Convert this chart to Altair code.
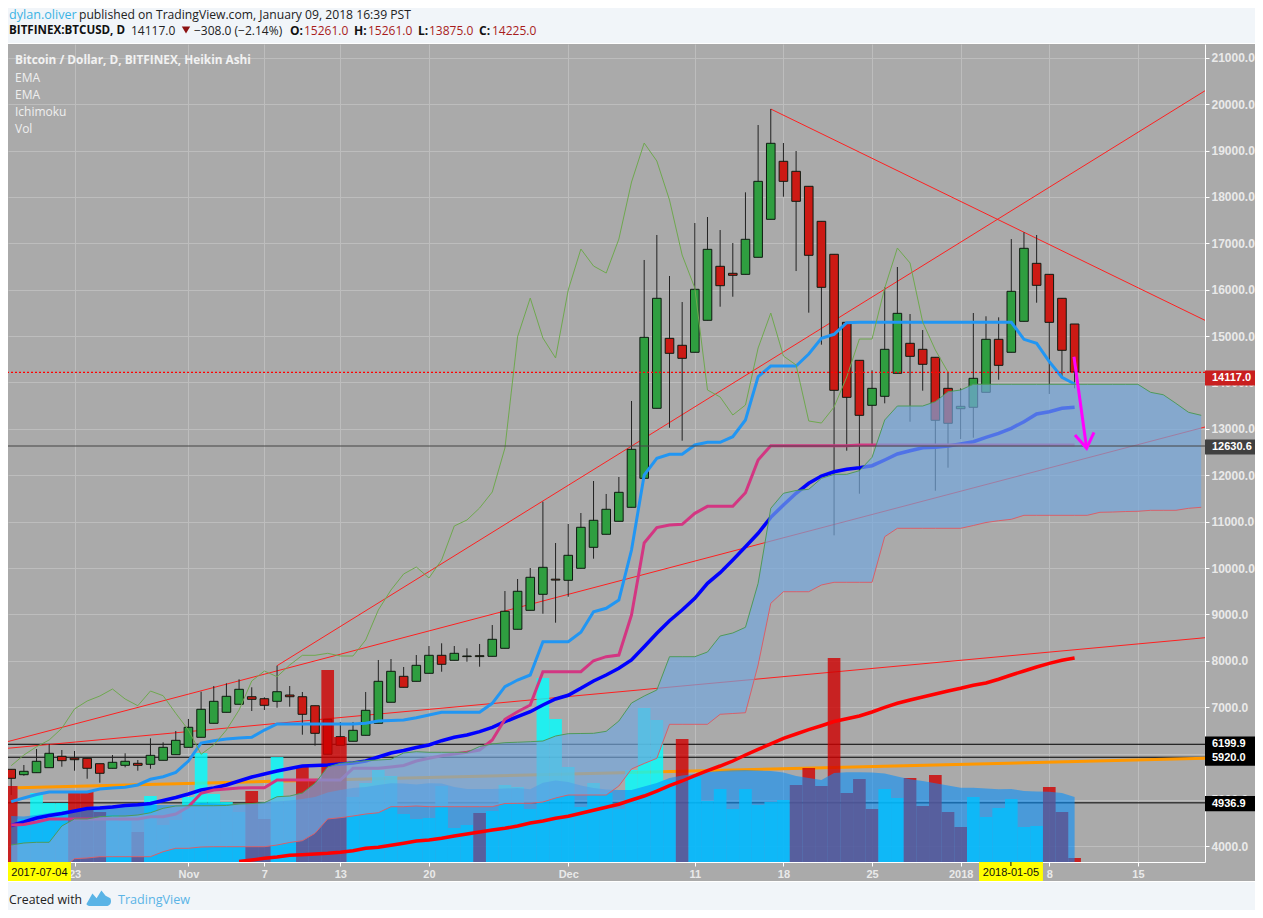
import altair as alt
import pandas as pd

FIRST_DAY = -5  # day numbers count from 2017-10-23
OPEN = [5660,5544,5587,5695,5940,5904,5897,5781,5682,5746,5789,5768,5854,5975,6134,6350,6652,6889,7062,7225,7182,7126,7262,7225,7031,6738,6363,6264,6393,6652,7105,7665,7557,7730,8118,8010,8103,8110,8096,8269,8679,9088,9433,9760,9735,9994,10446,10727,11007,11309,11934,13443,14952,14802,14651,15341,16505,16354,16332,16699,17518,18769,18553,18230,17475,16764,15297,14478,13508,13702,14198,14845,14715,14543,13874,13435,13465,13788,14931,14651,15319,16569,16332,15815,15261]
HIGH = [5660,5753,6098,6206,6076,6055,5897,5781,5968,6005,5861,6328,6242,6486,6745,7333,7456,7514,7600,7428,7212,7894,7456,7327,7031,6738,6680,6680,7327,8017,8038,7866,8124,8318,8377,8318,8269,8362,8771,9504,9763,10000,11430,10539,10949,11186,11876,11596,11962,13601,16641,17180,16296,15735,17438,17568,17287,17007,18100,19551,19896,19163,18991,18230,17475,16764,15297,14478,14263,16052,16490,15476,15131,14543,14219,13874,15498,15427,15405,17093,17238,17180,16332,15815,15261]
LOW = [5106,5522,5587,5695,5716,5630,5457,5371,5682,5703,5630,5673,5854,5975,6134,6350,6652,6889,7062,6917,6939,6988,7010,6406,6169,5984,6178,6264,6393,6652,7105,7428,7557,7730,7764,8010,7980,7872,8096,8269,8679,9088,9015,8821,9381,9994,10201,10727,11007,11309,11934,13443,13025,12745,14651,15341,15634,15849,16332,16699,17518,18005,16403,15505,14815,10705,12529,11602,12652,13551,14198,13154,13823,11667,12163,12781,12809,13788,14060,14651,15319,15720,13752,14125,13875]
CLOSE = [5466,5617,5833,6005,5846,5867,5682,5574,5811,5833,5746,5962,6134,6285,6566,6954,7126,7234,7385,7169,7040,7333,7225,6846,6436,5984,6178,6501,6932,7557,7773,7428,7902,8118,7924,8161,8090,8090,8463,9067,9498,9800,10015,9740,10274,10878,11029,11266,11632,12559,14974,15815,14629,14521,16009,16871,16087,16311,17087,18337,19157,18337,17906,16742,16052,13831,13680,13292,13874,14715,15491,14564,14392,13185,13120,13486,14090,14931,14370,15966,16893,16095,15297,14694,14225]

VOLUME = [76,43,69,59,59,70,70,50,47,41,30,66,37,42,65,109,68,60,50,71,43,105,65,95,83,192,125,65,79,92,86,48,43,44,76,34,37,49,51,77,75,53,184,143,95,55,79,69,53,92,154,142,82,123,85,61,73,53,73,57,60,62,77,94,76,204,69,83,53,73,64,84,56,87,50,35,65,45,54,63,35,36,75,50,4]
VOLUME_SIDE = ["r","c","c","c","c","r","r","r","c","c","r","c","c","c","c","c","c","c","c","r","r","c","c","r","r","r","r","c","c","c","c","c","c","c","c","c","c","r","c","c","c","c","c","c","c","c","c","c","c","c","c","c","c","r","c","c","c","c","c","c","c","c","r","r","r","r","r","r","r","c","c","r","r","r","r","r","c","c","c","c","c","c","r","r","r"]
VOLUME_MA = [46,45.5,47,49,50.5,52.5,55,56,56.5,56.5,56.7,57,57,57,57.5,59,58.5,58,58,58.5,60,60.5,61.5,63,65,69.5,72,74,75,77,78.7,78.5,77.5,78.8,78.5,75,73,73,73,73.5,74,72.7,79.3,81.5,80,76.5,74,72.5,72,72,75.5,79,84,86.5,88,90,91,91.7,92,91.5,91,89.5,86,84,82,89,89.7,89.7,89.5,88.5,85.5,82.7,81,78.7,76.5,74.3,74.2,73.5,72.8,73,71,70.5,70.2,69,65]

EMA_BLUE = [4448,4524,4610,4664,4707,4761,4815,4826,4847,4880,4895,4923,4987,5052,5128,5214,5257,5322,5408,5494,5559,5623,5677,5731,5742,5753,5774,5796,5839,5925,6012,6065,6130,6184,6277,6350,6400,6471,6566,6686,6794,6902,7046,7176,7256,7406,7564,7693,7838,8017,8303,8592,8864,9095,9347,9670,9899,10173,10459,10748,11093,11358,11611,11826,11984,12076,12128,12163,12206,12329,12458,12529,12594,12602,12630,12674,12723,12818,12904,13012,13154,13320,13370,13443,13465]
EMA_RED_FIRST = 13
EMA_RED = [3670,3705,3741,3769,3806,3819,3834,3849,3871,3905,3957,3978,4022,4065,4114,4136,4172,4222,4265,4308,4351,4388,4438,4502,4545,4604,4647,4711,4776,4841,4906,4998,5084,5192,5307,5408,5522,5630,5731,5839,5968,6091,6206,6328,6421,6514,6600,6691,6751,6809,6896,6997,7083,7154,7219,7284,7348,7406,7471,7521,7601,7693,7779,7866,7945,8010,8060]
CONVERSION = [4962,5041,5117,5171,5171,5171,5171,5235,5257,5272,5322,5445,5501,5595,5839,6227,6277,6313,6335,6350,6507,6637,6637,6637,6637,6637,6637,6637,6652,6701,6712,6723,6773,6831,6889,6889,6889,6889,7083,7441,7585,7693,8411,8411,8411,8614,9058,9131,9310,10388,12005,12365,12452,12452,12652,12710,12710,12831,13191,14125,14355,14355,14355,14614,14952,15039,15289,15297,15297,15297,15297,15297,15297,15297,15297,15297,15297,15297,15297,15297,14931,14845,14448,14112,13967]
BASE = [4459,4470,4524,4589,4589,4589,4589,4589,4589,4589,4589,4638,4638,4696,4854,5143,5214,5235,5257,5263,5263,5429,5429,5429,5429,5429,5429,5682,5682,5682,5710,5742,5839,5897,5953,5990,6027,6076,6292,6738,6902,7046,7764,7764,7764,7764,8001,8088,8124,8987,10539,10873,10927,10942,11179,11330,11330,11330,11624,12329,12637,12637,12637,12637,12637,12637,12637,12652,12652,12652,12652,12652,12652,12652,12652,12652,12652,12652,12652,12652,12652,12652,12652,12652,12652]
LAGGING = [5738,5968,6147,6292,6544,6960,7133,7240,7391,7176,7031,7348,7247,6867,6507,5984,6184,6507,6939,7564,7779,7657,7909,8118,8118,8161,8103,8103,8448,9095,9526,9871,10022,9785,10173,10906,11035,11294,11639,12587,14987,15821,14959,14528,15994,16878,16511,16360,17093,18322,19163,18775,17934,16748,16037,13838,13687,13299,13514,14743,15498,14571,14377,13170,13126,13471,14118,14937,14937,16037,16899,16576,15304,14700,14225]
SPAN_A = [4028,4071,4086,4086,4438,4589,4589,4638,4653,4653,4675,4724,4819,4869,4875,4875,4875,4880,4912,4923,4940,5069,5084,5149,5358,5710,5789,5817,5846,5861,5876,6012,6040,6027,6027,6027,6027,6152,6206,6234,6244,6255,6270,6378,6428,6432,6436,6479,6701,7089,7240,7370,8088,8088,8088,8189,8534,8599,8722,9670,11287,11611,11671,11697,11934,12020,12020,12098,12387,13191,13493,13493,13493,13586,13801,13838,13961,13961,13961,13961,13961,13961,13961,13961,13961,13961,13961,13961,13961,13961,13788,13736,13551,13357,13292]
SPAN_B = [3400,3400,3400,3400,3500,3733,3748,3776,3776,3776,3776,3776,3884,3957,3957,3985,3991,3991,3991,3991,3991,4028,4082,4121,4280,4589,4617,4653,4696,4724,4854,4854,4869,4854,4854,4854,4854,4854,4854,4923,4927,4927,4955,5041,5106,5106,5106,5106,5300,5667,5785,5897,6630,6630,6630,6630,6846,6863,6880,7909,9239,9489,9489,9489,9634,9692,9692,9692,9692,10675,10856,10856,10856,10856,10856,10856,10916,10981,11020,11050,11136,11136,11136,11136,11136,11136,11201,11207,11218,11223,11244,11244,11244,11287,11309]

TREND_DAY_A = [-5.3, 89.3]; TREND_A = [6113, 8497]
TREND_DAY_B = [-5.3, 89.3]; TREND_B = [6255, 13040]
TREND_DAY_C = [16, 89.3];   TREND_C = [7894, 20290]
TREND_DAY_D = [55, 89.3];   TREND_D = [19896, 15340]
ORANGE_DAY = [-4.5, 89.3];  ORANGE = [5263, 5897]
ARROW_DAY = [78.95, 79.95]; ARROW = [14556, 12581]
ARROW_HEAD_DAY = [79.03, 79.95, 80.53]; ARROW_HEAD = [12868, 12581, 12926]
BLACK_LEVELS = [6199.9, 5920.0, 4936.9]
GREY_LEVEL = 12630.6
LAST_CLOSE = 14218

PRICE_TICKS = list(range(4000, 21001, 1000))
DAY_TICKS = [0, 9, 15, 21, 28, 39, 49, 56, 63, 70, 77, 84]
DAY_LABELS = ["23", "Nov", "7", "13", "20", "Dec", "11", "18", "25", "2018", "8", "15"]
TAG_TEXT = ["14117.0", "12630.6", "6199.9", "5920.0", "4936.9"]
TAG_CENTRE = [14097, 12609, 6206, 5899, 4918]
TAG_COLOUR = ["#c91f1f", "#404040", "#000000", "#000000", "#000000"]
LEGEND_LINES = ["EMA", "EMA", "Ichimoku", "Vol"]

PRICE_MIN, PRICE_MAX = 3661.5, 21298
DAY_MIN, DAY_MAX = -5.253, 89.30
UNIT = (PRICE_MAX - PRICE_MIN) / 818
PAGE_BG = "#f1f5f9"
SANS = "Liberation Sans"
UI = "Open Sans"

xs = alt.Scale(domain=[DAY_MIN, DAY_MAX], nice=False, zero=False)
ys = alt.Scale(domain=[PRICE_MIN, PRICE_MAX], nice=False, zero=False)
X = alt.X("day:Q", scale=xs, title=None)
Y = alt.Y("v:Q", scale=ys, title=None)
one = pd.DataFrame({"a": [0]})


def line(days, vals, colour, width, **kw):
    df = pd.DataFrame({"day": days, "v": vals, "o": range(len(vals))})
    return alt.Chart(df).mark_line(color=colour, strokeWidth=width, clip=True, **kw).encode(
        x=X, y=Y, order="o:Q")


def series(first, vals):
    return list(range(first, first + len(vals)))


def box(x0, x1, y0, y1, colour):
    return alt.Chart(one).mark_rect(color=colour).encode(
        x=alt.value(x0), x2=alt.value(x1), y=alt.value(y0), y2=alt.value(y1))


def text(s, px, py, colour, size=12, weight="normal", font=UI, align="left"):
    return alt.Chart(pd.DataFrame({"t": [s]})).mark_text(
        color=colour, fontSize=size, fontWeight=weight, font=font, align=align, baseline="middle"
    ).encode(x=alt.value(px - 8), y=alt.value(py - 44), text="t:N")


days = series(FIRST_DAY, OPEN)
cd = pd.DataFrame({"day": days, "o": OPEN, "h": HIGH, "l": LOW, "c": CLOSE})
cd["top"] = cd[["o", "c"]].max(axis=1)
cd["bot"] = cd[["o", "c"]].min(axis=1)
cd["x0"] = cd.day - 0.34
cd["x1"] = cd.day + 0.34
cd["fill"] = ["#2f9e40" if c >= o else "#cc1a14" for o, c in zip(OPEN, CLOSE)]

vol = pd.DataFrame({"day": days, "vol": VOLUME, "side": VOLUME_SIDE, "ma": VOLUME_MA})
vol["x0"] = vol.day - 0.5
vol["x1"] = vol.day + 0.5
vol["v"] = PRICE_MIN + vol.vol * UNIT
vol["mav"] = PRICE_MIN + vol.ma * UNIT
vol["base"] = PRICE_MIN

cloud = pd.DataFrame({"day": series(FIRST_DAY, SPAN_A), "a": SPAN_A, "b": SPAN_B})

grid_layer = alt.Chart(pd.DataFrame({"v": BLACK_LEVELS})).mark_rule(color="#000000", strokeWidth=1).encode(
    y=alt.Y("v:Q", scale=ys, title=None, axis=alt.Axis(
        orient="right", values=PRICE_TICKS, format=".1f", grid=True, gridColor="#bdbdbd", gridWidth=1,
        domainColor="#ffffff", tickColor="#ffffff", tickSize=4, labelPadding=2, labelFont=SANS,
        labelFontSize=12, labelFontWeight="bold", labelColor="#e9e9e9", labelOverlap=False,
        labelFlush=False, labelBound=False)),
    x=alt.value(0), x2=alt.value(1197))
x_axis_layer = alt.Chart(pd.DataFrame({"day": DAY_TICKS})).mark_rule(opacity=0).encode(
    x=alt.X("day:Q", scale=xs, title=None, axis=alt.Axis(
        values=DAY_TICKS,
        labelExpr="%s[indexof(%s, datum.value)]" % (DAY_LABELS, DAY_TICKS),
        grid=True, gridColor="#bdbdbd", gridWidth=1, domainColor="#ffffff", tickColor="#ffffff",
        tickSize=4, labelPadding=2, labelFont=SANS, labelFontSize=11, labelFontWeight="bold",
        labelColor="#e9e9e9", labelOverlap=False, labelFlush=False, labelBound=False)))

wicks = alt.Chart(cd).mark_rule(color="#222222", strokeWidth=1, clip=True).encode(
    x=X, y=alt.Y("l:Q", scale=ys, title=None), y2="h")
bodies = alt.Chart(cd).mark_rect(stroke="#0e1a10", strokeWidth=1, clip=True).encode(
    x=alt.X("x0:Q", scale=xs, title=None), x2="x1",
    y=alt.Y("bot:Q", scale=ys, title=None), y2="top",
    fill=alt.Fill("fill:N", scale=None))
vol_bars = alt.Chart(vol).mark_rect(opacity=0.8, clip=True).encode(
    x=alt.X("x0:Q", scale=xs, title=None), x2="x1",
    y=Y, y2="base",
    fill=alt.Fill("side:N", scale=alt.Scale(domain=["r", "c"], range=["#d00000", "#00ffff"]), legend=None))
vol_ma = alt.Chart(vol).mark_area(color="#028efe", opacity=0.57, clip=True).encode(
    x=X, y=alt.Y("mav:Q", scale=ys, title=None), y2="base")
cloud_fill = alt.Chart(cloud).mark_area(color="#74a7dc", opacity=0.69, clip=True).encode(
    x=X, y=alt.Y("a:Q", scale=ys, title=None), y2="b")
tags = pd.DataFrame({"t": TAG_TEXT, "v": TAG_CENTRE, "col": TAG_COLOUR})
tags["lo"] = tags.v - 7.6 * UNIT
tags["hi"] = tags.v + 7.6 * UNIT
tag_boxes = alt.Chart(tags).mark_rect().encode(
    x=alt.value(1197), x2=alt.value(1247), y=alt.Y("lo:Q", scale=ys, title=None), y2="hi",
    fill=alt.Fill("col:N", scale=None))
tag_text = alt.Chart(tags).mark_text(
    font=SANS, fontSize=11, fontWeight="bold", color="#ffffff", align="left", baseline="middle"
).encode(x=alt.value(1204), y=Y, text="t:N")
date_tags = pd.DataFrame({"x0": [-5.253, 71.45], "x1": [-0.28, 76.5], "day": [-2.77, 73.97],
                          "t": ["2017-07-04", "2018-01-05"]})
date_boxes = alt.Chart(date_tags).mark_rect(color="#ffff00").encode(
    x=alt.X("x0:Q", scale=xs, title=None), x2="x1", y=alt.value(818), y2=alt.value(837))
date_text = alt.Chart(date_tags).mark_text(
    font=SANS, fontSize=11, color="#111111", align="center", baseline="middle"
).encode(x=X, y=alt.value(829), text="t:N")
date_tick = alt.Chart(pd.DataFrame({"day": [73.97]})).mark_rule(color="#111111").encode(
    x=X, y=alt.value(818), y2=alt.value(822))
logo = alt.Chart(one).mark_point(
    shape="M-1,0.5 L-0.55,-0.3 L-0.2,0.1 L0.2,-0.55 L0.55,-0.1 L0.95,0.1 C1.1,0.5 0.9,0.75 0.6,0.75 L-0.7,0.75 C-1,0.75 -1.1,0.6 -1,0.5 Z",
    filled=True, color="#5ab4e6", opacity=1, size=576
).encode(x=alt.value(99 - 8), y=alt.value(897 - 44))
triangle = alt.Chart(one).mark_point(shape="triangle-down", filled=True, color="#8c1212", opacity=1, size=70).encode(
    x=alt.value(186 - 8), y=alt.value(30 - 44))

layers = [
    grid_layer, x_axis_layer,
    line(ORANGE_DAY, ORANGE, "#ff9800", 3),
    line(TREND_DAY_A, TREND_A, "#ff2020", 1),
    line(TREND_DAY_B, TREND_B, "#ff2020", 1),
    line(TREND_DAY_C, TREND_C, "#ff2020", 1),
    line(TREND_DAY_D, TREND_D, "#ff2020", 1),
    wicks, bodies, vol_bars, vol_ma,
    line(series(EMA_RED_FIRST, EMA_RED), EMA_RED, "#ff0000", 3.5),
    line(series(FIRST_DAY, EMA_BLUE), EMA_BLUE, "#0000ff", 3.5),
    line(series(FIRST_DAY, CONVERSION), CONVERSION, "#2196f3", 3),
    line(series(FIRST_DAY, BASE), BASE, "#d33682", 3),
    line(series(FIRST_DAY, LAGGING), LAGGING, "#6fa84f", 1),
    cloud_fill,
    line(series(FIRST_DAY, SPAN_A), SPAN_A, "#4f9a5a", 1),
    line(series(FIRST_DAY, SPAN_B), SPAN_B, "#d8606a", 1),
    alt.Chart(pd.DataFrame({"v": [GREY_LEVEL]})).mark_rule(color="#444444", strokeWidth=1).encode(y=Y),
    alt.Chart(pd.DataFrame({"v": [LAST_CLOSE]})).mark_rule(color="#ff0000", strokeWidth=1.2, strokeDash=[2, 2]).encode(y=Y),
    line(ARROW_DAY, ARROW, "#ff00ff", 3),
    line(ARROW_HEAD_DAY, ARROW_HEAD, "#ff00ff", 3),
    # page furniture around the panel
    box(0, 1247, -36, -1, PAGE_BG), box(0, 1247, -1, 0, "#ffffff"),
    box(0, 1247, 838, 866, PAGE_BG), box(0, 1247, 837, 838, "#ffffff"),
    tag_boxes, tag_text, date_boxes, date_tick, date_text,
    text("dylan.oliver", 9, 15, "#3bb3e4", size=12.6),
    text("published on TradingView.com, January 09, 2018 16:39 PST", 79, 15, "#222222", size=12.15),
    text("BITFINEX:BTCUSD, D", 9, 31, "#111111", size=11.6, weight="bold"),
    text("14117.0", 131, 31, "#222222"), triangle,
    text("\u2212308.0 (\u22122.14%)", 194, 31, "#222222"),
    text("O:", 290, 31, "#111111", weight="bold"), text("15261.0", 304, 31, "#a81c1c"),
    text("H:", 354, 31, "#111111", weight="bold"), text("15261.0", 368, 31, "#a81c1c"),
    text("L:", 418, 31, "#111111", weight="bold"), text("13875.0", 429, 31, "#a81c1c"),
    text("C:", 479, 31, "#111111", weight="bold"), text("14225.0", 492, 31, "#a81c1c"),
    text("Bitcoin / Dollar, D, BITFINEX, Heikin Ashi", 15, 60, "#f2f2f2", size=11.8, weight="bold"),
]
for i, s in enumerate(LEGEND_LINES):
    layers.append(text(s, 15, 78 + 17 * i, "#efefef"))
layers += [
    text("Created with", 9, 900, "#222222", size=12.3),
    logo,
    text("TradingView", 118, 900, "#5ab4e6", size=12.6),
]

chart = alt.layer(*layers).properties(
    width=1197, height=818, background="#aaaaaa", autosize="none",
    padding={"left": 0, "top": 36, "right": 50, "bottom": 48},
).configure_view(stroke=None)

chart.save("out.html", embed_options={"renderer": "svg", "actions": False})
